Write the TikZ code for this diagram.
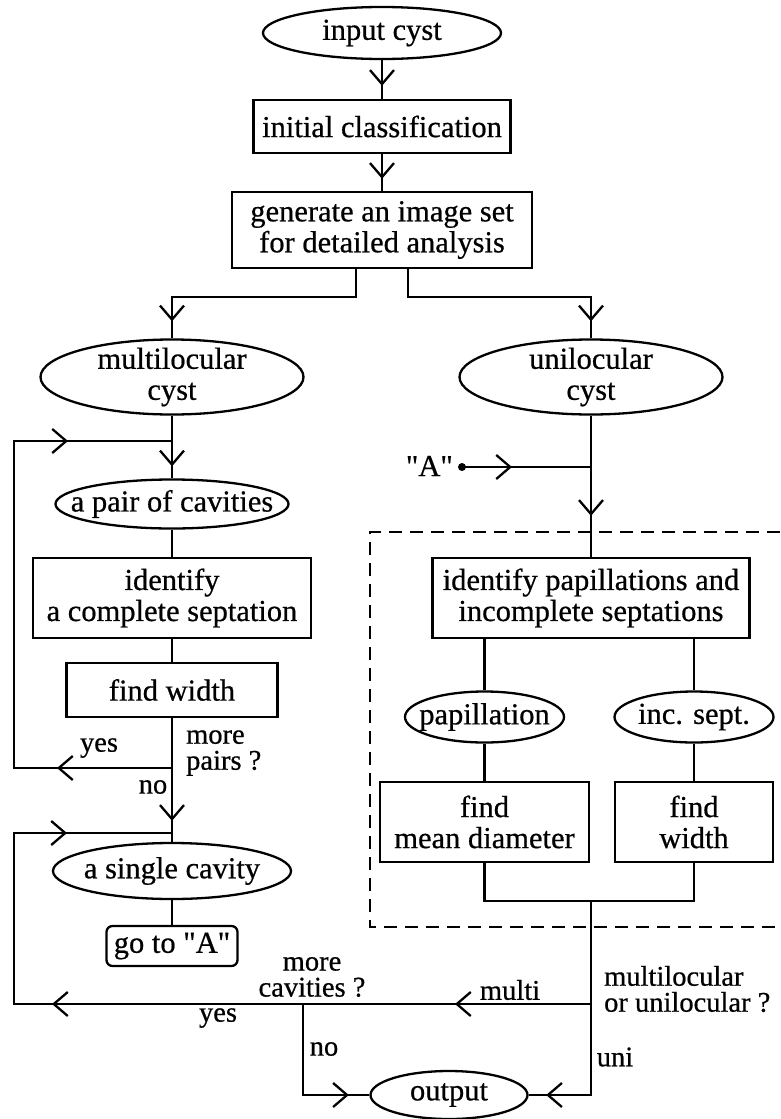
\documentclass[tikz,border=0pt]{standalone}
\usepackage{fontspec}
\setmainfont{Liberation Serif}[FakeBold=0.6]
\usetikzlibrary{arrows.meta,decorations.markings}
\newcommand\dqt{\XeTeXglyph\XeTeXcharglyph"22\relax}
\tikzset{
  vtip/.tip={Straight Barb[length=14pt,width=24pt]},
  mk/.style={postaction={decorate,decoration={markings,mark=at position #1 with {\arrow{vtip}}}}},
  mkk/.style 2 args={postaction={decorate,decoration={markings,
      mark=at position #1 with {\arrow{vtip}},
      mark=at position #2 with {\arrow{vtip}}}}},
  mkkk/.style n args={3}{postaction={decorate,decoration={markings,
      mark=at position #1 with {\arrow{vtip}},
      mark=at position #2 with {\arrow{vtip}},
      mark=at position #3 with {\arrow{vtip}}}}},
  box/.style={draw, inner sep=0pt, align=center},
  tn/.style={inner sep=0pt, align=center},
  lbl/.style={inner sep=0pt, align=left, font=\fontsize{28.5pt}{26pt}\selectfont},
  dashbox/.style={dash pattern=on 13pt off 8pt, line width=2pt},
}
\begin{document}
\begin{tikzpicture}[x=1pt,y=-1pt,line width=2.3pt,font=\fontsize{30.5pt}{31pt}\selectfont]
\useasboundingbox (0,0) rectangle (780,1119);
\clip (0,0) rectangle (780,1119);

% nodes
\node[tn, minimum width=238pt, minimum height=52pt] (inp) at (382,33) {input cyst};
\node[box, minimum width=257pt, minimum height=53pt] (ini) at (382,126.5) {initial classification};
\node[box, minimum width=300pt, minimum height=76pt] (gen) at (382,230) {generate an image set\\for detailed analysis};
\node[tn, minimum width=263pt, minimum height=75pt] (mul) at (172,377) {multilocular\\cyst};
\node[tn, minimum width=263pt, minimum height=75pt] (uni) at (591,377) {unilocular\\cyst};
\node[tn, minimum width=233pt, minimum height=49pt] (pair) at (172,504) {a pair of cavities};
\node[box, minimum width=278pt, minimum height=80pt] (idc) at (172,598) {identify\\a complete septation};
\node[box, minimum width=211pt, minimum height=54pt] (fw) at (172,690) {find width};
\node[tn, minimum width=238pt, minimum height=56pt] (sc) at (172,871) {a single cavity};
\node[box, rounded corners=6pt, minimum width=131pt, minimum height=40pt] (goA) at (172,946) {go to \dqt A\dqt};
\node[box, minimum width=317pt, minimum height=80pt] (ip) at (591,598) {identify papillations and\\incomplete septations};
\node[tn, minimum width=159pt, minimum height=51pt] (pap) at (484.5,717) {papillation};
\node[tn, minimum width=159pt, minimum height=51pt] (inc) at (694,717) {inc. sept.};
\node[box, minimum width=209pt, minimum height=80pt] (md) at (484.5,822) {find\\mean diameter};
\node[box, minimum width=158pt, minimum height=80pt] (fw2) at (694,822) {find\\width};
\node[tn, minimum width=157pt, minimum height=48pt] (out) at (449,1095) {output};

% ellipses
\draw (inp.center) ellipse [x radius=119pt, y radius=26pt];
\draw (mul.center) ellipse [x radius=131.5pt, y radius=37.5pt];
\draw (uni.center) ellipse [x radius=131.5pt, y radius=37.5pt];
\draw (pair.center) ellipse [x radius=116.5pt, y radius=24.5pt];
\draw (sc.center) ellipse [x radius=119pt, y radius=28pt];
\draw (pap.center) ellipse [x radius=79.5pt, y radius=25.5pt];
\draw (inc.center) ellipse [x radius=79.5pt, y radius=25.5pt];
\draw (out.center) ellipse [x radius=78.5pt, y radius=24pt];

% "A" entry
\node[circle, fill, inner sep=0pt, minimum size=8pt] (dot) at (462,467) {};
\node[inner sep=0pt, anchor=east] (lA) at (454,466) {\dqt A\dqt};

% helper coordinates
\coordinate (ua) at (591,467);
\coordinate (j1) at (172,768);
\coordinate (m1) at (172,441);
\coordinate (l1) at (14,441);
\coordinate (m2) at (172,833);
\coordinate (l2) at (14,833);
\coordinate (j2) at (591,1004);
\coordinate (c2) at (303,1004);
\coordinate (jn) at (591,901);

% dashed region
\draw[dashbox] (780,532) -| (370,927) -- (780,927);

% connectors
\draw[mk=-13pt] (inp.south) -- (ini.north);
\draw[mk=-12pt] (ini.south) -- (gen.north);
\draw[mk=-17pt] ([xshift=-26pt]gen.south) -- ++(0,28) -| (mul.north);
\draw[mk=-17pt] ([xshift=26pt]gen.south) -- ++(0,28) -| (uni.north);
\draw[mk=-12pt] (mul.south) -- (pair.north);
\draw (pair.south) -- (idc.north);
\draw (idc.south) -- (fw.north);
\draw[mk=-21pt] (fw.south) -- (sc.north);
\draw[mkk={115pt}{-104pt}] (j1) -| (l1) -- (m1);
\draw (sc.south) -- (goA.north);

\draw[mk=50pt] (dot.center) -- (ua);
\draw[mk=-41pt] (uni.south) -- (ip.north);
\draw (pap.north |- ip.south) -- (pap.north);
\draw (inc.north |- ip.south) -- (inc.north);
\draw (pap.south) -- (md.north);
\draw (inc.south) -- (fw2.north);
\draw (md.south) |- (jn) -| (fw2.south);
\draw[mk=-17.5pt] (jn) |- (out.east);
\draw[mkkk={136pt}{539pt}{-105pt}] (j2) -- (c2) -- (14,1004) -- (l2) -- (m2);
\draw[mk=-20.5pt] (c2) |- (out.west);

% labels
\node[lbl] (yes1) at (99,748) {yes};
\node[lbl, anchor=west] (mp) at (185,753) {more\\pairs ?};
\node[lbl] (no1) at (153,787) {no};
\node[lbl, align=center] (mc) at (312,977) {more\\cavities ?};
\node[lbl] (yes2) at (218,1018) {yes};
\node[lbl] (multi) at (510,990) {multi};
\node[lbl, anchor=west] (mu) at (603,989) {multilocular\\or unilocular ?};
\node[lbl] (no2) at (324,1049) {no};
\node[lbl] (uniL) at (615,1057) {uni};
\end{tikzpicture}
\end{document}
